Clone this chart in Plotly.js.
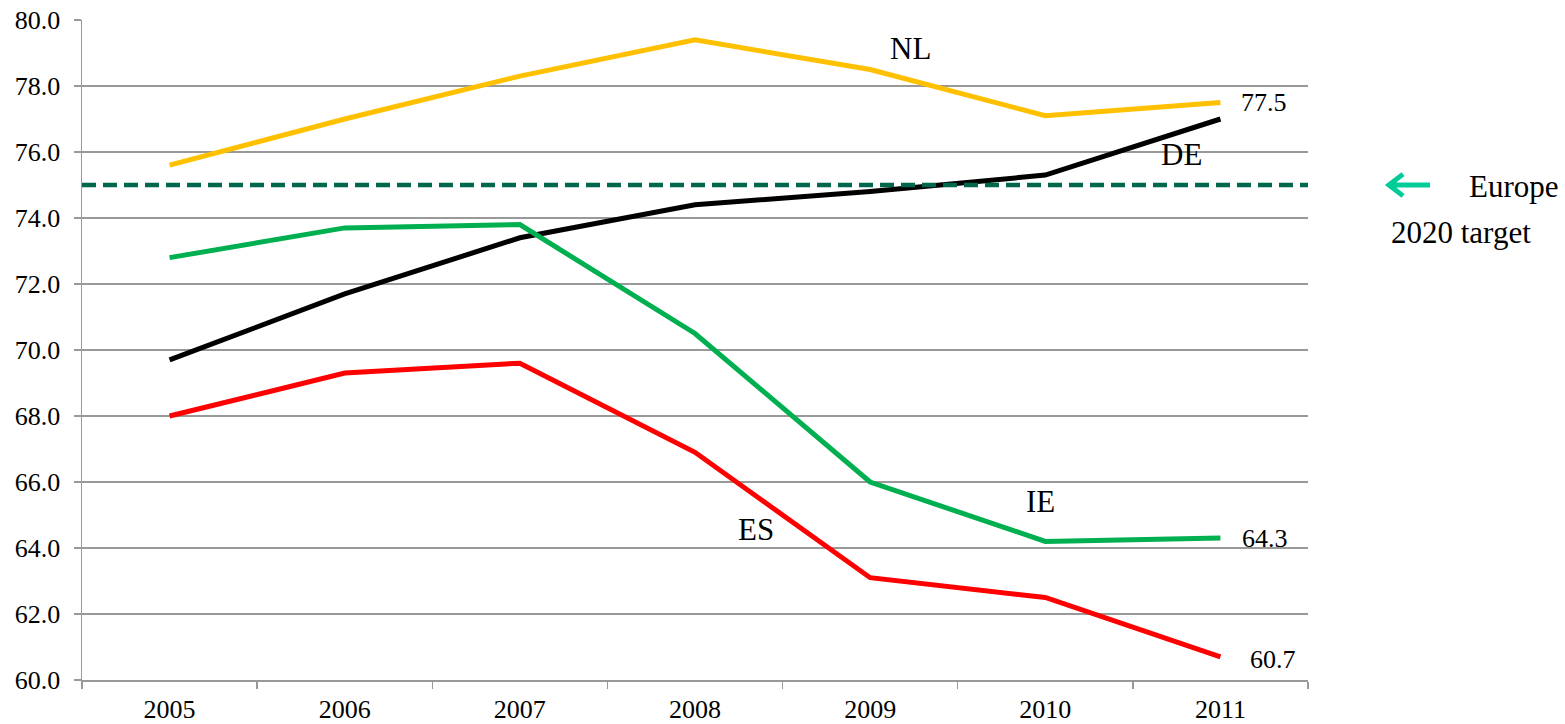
<!DOCTYPE html>
<html><head><meta charset="utf-8">
<script src="https://cdn.plot.ly/plotly-3.0.1.min.js"></script>
<style>html,body{margin:0;padding:0;background:#fff}#c{width:1565px;height:724px}</style>
</head><body><div id="c"></div>
<script>
var years = ['2005','2006','2007','2008','2009','2010','2011'];
var NL = [75.6, 77.0, 78.3, 79.4, 78.5, 77.1, 77.5];
var DE = [69.7, 71.7, 73.4, 74.4, 74.8, 75.3, 77.0];
var IE = [72.8, 73.7, 73.8, 70.5, 66.0, 64.2, 64.3];
var ES = [68.0, 69.3, 69.6, 66.9, 63.1, 62.5, 60.7];
var target = 75;
var F = 'Liberation Serif, Times New Roman, serif';
var LBL = {family:F, size:31, color:'#000'};
var last = years.length - 1;

function tr(y, c, n){return {x: years, y: y, type:'scatter', mode:'lines', name:n, line:{color:c, width:5}, hoverinfo:'y'};}
var data = [tr(NL,'#FFC000','NL'), tr(DE,'#000000','DE'), tr(IE,'#00B050','IE'), tr(ES,'#FF0000','ES')];

var layout = {
  width:1565, height:724,
  margin:{l:82, r:257, t:20, b:44},
  showlegend:false,
  paper_bgcolor:'#fff', plot_bgcolor:'#fff',
  font:{family:F, size:26, color:'#000'},
  xaxis:{type:'category', categoryorder:'array', categoryarray:years, range:[-0.5, 6.5], autorange:false,
         tickson:'boundaries', ticks:'outside', ticklen:7, tickcolor:'#999', tickwidth:1.5, ticklabelstandoff:5,
         showline:true, linecolor:'#999', linewidth:1.5, showgrid:false, zeroline:false,
         tickfont:{family:F, size:26}},
  yaxis:{range:[60,80], autorange:false, dtick:2, tickformat:'.1f', ticks:'outside', ticklen:7, tickcolor:'#999', tickwidth:1.5,
         ticklabelstandoff:8,
         showline:true, linecolor:'#999', linewidth:1.5, gridcolor:'#999', gridwidth:1.5, zeroline:false,
         tickfont:{family:F, size:26}},
  shapes:[
    {type:'line', xref:'paper', yref:'y', x0:0, x1:1, y0:target, y1:target, line:{color:'#00664D', width:4.5, dash:'14px,7px'}},
    {type:'path', xref:'paper', yref:'y', path:'M 1.0995,75 L 1.0660,75 M 1.0775,75.33 L 1.0660,75 L 1.0775,74.67',
     line:{color:'#00CC99', width:5}}
  ],
  annotations:[
    {xref:'paper', yref:'y', x:0.6754, y:79.15, text:'NL', showarrow:false, xanchor:'center', font:LBL},
    {xref:'paper', yref:'y', x:0.8972, y:75.91, text:'DE', showarrow:false, xanchor:'center', font:LBL},
    {xref:'paper', yref:'y', x:0.7822, y:65.42, text:'IE', showarrow:false, xanchor:'center', font:LBL},
    {xref:'paper', yref:'y', x:0.5498, y:64.55, text:'ES', showarrow:false, xanchor:'center', font:LBL},
    {xref:'x', yref:'y', x:last, y:NL[last], text:NL[last].toFixed(1), showarrow:false, xanchor:'center', xshift:44},
    {xref:'x', yref:'y', x:last, y:IE[last], text:IE[last].toFixed(1), showarrow:false, xanchor:'center', xshift:45},
    {xref:'x', yref:'y', x:last, y:ES[last], text:ES[last].toFixed(1), showarrow:false, xanchor:'center', xshift:53, yshift:-3},
    {xref:'paper', yref:'y', x:1.1680, y:74.95, text:'Europe', showarrow:false, xanchor:'center', font:LBL},
    {xref:'paper', yref:'y', x:1.1249, y:73.55, text:'2020 target', showarrow:false, xanchor:'center', font:LBL}
  ]
};
Plotly.newPlot('c', data, layout, {displayModeBar:false, staticPlot:true});
</script></body></html>
